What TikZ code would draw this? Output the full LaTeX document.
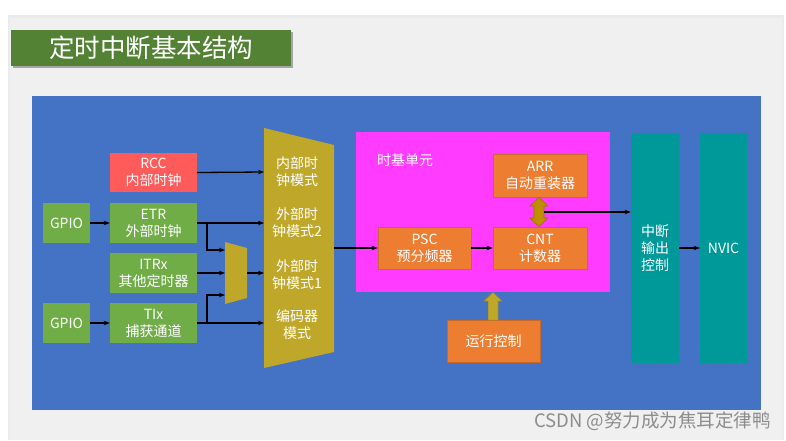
\documentclass[tikz,border=0pt]{standalone}
\usepackage{fontspec}
\setmainfont{Liberation Sans}
\newfontfamily\cjk{Noto Sans CJK SC}
\usetikzlibrary{arrows.meta}
\definecolor{slidebg}{HTML}{F0F0F0}
\definecolor{titlegreen}{HTML}{548235}
\definecolor{mainblue}{HTML}{4472C4}
\definecolor{boxgreen}{HTML}{70AD47}
\definecolor{boxred}{HTML}{FF5B5B}
\definecolor{goldc}{HTML}{BFA72A}
\definecolor{magentabox}{HTML}{FF3BFF}
\definecolor{boxorange}{HTML}{ED7D31}
\definecolor{orangeedge}{HTML}{C8692A}
\definecolor{tealc}{HTML}{009999}
\definecolor{darkgold}{HTML}{BF8F00}
\definecolor{darkgoldedge}{HTML}{9A7400}
\tikzset{
  blk/.style={rectangle, inner sep=0pt, align=center, text=white,
    font=\cjk\fontsize{14}{17}\selectfont},
  gbox/.style={blk, fill=boxgreen, minimum height=40pt},
  obox/.style={blk, fill=boxorange, draw=orangeedge, line width=0.6pt, minimum height=42pt},
  lbl/.style={inner sep=0pt, align=center, text=white, font=\cjk\fontsize{14}{17}\selectfont},
  conn/.style={line width=1.3pt, black, -{Stealth[length=6pt,width=4.5pt]}},
  wire/.style={line width=1.3pt, black}
}
\begin{document}
\begin{tikzpicture}[x=1pt,y=-1pt]
\useasboundingbox (0,0) rectangle (786,440);
\fill[white] (0,0) rectangle (786,440);
\fill[black!8] (8,15) rectangle (784,440);
\fill[slidebg] (10,18) rectangle (782,440);
% title
\fill[black!35] (13,32) rectangle (293,68);
\fill[titlegreen] (11,30) rectangle (291,66);
\node[inner sep=0pt, text=white, font=\cjk\fontsize{25.5}{28}\selectfont] (title) at (151,48) {定时中断基本结构};
% main area
\fill[mainblue] (32,96) rectangle (761,410);
% left boxes
\node[blk, fill=boxred, minimum width=87pt, minimum height=39pt] (rcc) at (153.5,172.5) {RCC\\内部时钟};
\node[gbox, minimum width=47pt] (gpio1) at (66.5,223) {GPIO};
\node[gbox, minimum width=87pt] (etr) at (153.5,223) {ETR\\外部时钟};
\node[gbox, minimum width=87pt] (itrx) at (153.5,273) {ITRx\\其他定时器};
\node[gbox, minimum width=47pt] (gpio2) at (66.5,323) {GPIO};
\node[gbox, minimum width=87pt] (tix) at (153.5,323) {TIx\\捕获通道};
% mux
\fill[goldc] (225,242) -- (247,248) -- (247,298) -- (225,304) -- cycle;
\coordinate (muxa) at (225,250);
\coordinate (muxb) at (225,273);
\coordinate (muxc) at (225,295);
\coordinate (muxo) at (247,273);
% big trapezoid
\fill[goldc] (264,128) -- (334,145) -- (334,352) -- (264,368) -- cycle;
\node[lbl] (m1) at (297,172) {内部时\\钟模式};
\node[lbl] (m2) at (297,223) {外部时\\钟模式2};
\node[lbl] (m3) at (297,275) {外部时\\钟模式1};
\node[lbl] (m4) at (297,325) {编码器\\模式};
\coordinate (in1) at (264,172);
\coordinate (in2) at (264,223);
\coordinate (in3) at (264,273);
\coordinate (in4) at (264,323);
\coordinate (bigo) at (334,248);
% time base
\fill[magentabox] (356,132) rectangle (610,292);
\node[lbl] (tb) at (405,160) {时基单元};
\node[obox, minimum width=94pt, minimum height=43pt] (arr) at (540,175.5) {ARR\\自动重装器};
\node[obox, minimum width=93pt] (psc) at (424.5,248) {PSC\\预分频器};
\node[obox, minimum width=94pt] (cnt) at (540,248) {CNT\\计数器};
\node[obox, minimum width=93pt] (run) at (493.5,341) {运行控制};
% right columns
\node[blk, fill=tealc, minimum width=48pt, minimum height=230pt] (intc) at (655,248) {中断\\输出\\控制};
\node[blk, fill=tealc, minimum width=47pt, minimum height=230pt] (nvic) at (723.5,248) {NVIC};
% double block arrow ARR <-> CNT
\filldraw[fill=darkgold, draw=darkgoldedge, line width=0.6pt]
  (539,197.5) -- (548,206) -- (544,206) -- (544,218) -- (548,218) -- (539,226.5)
  -- (530,218) -- (534,218) -- (534,206) -- (530,206) -- cycle;
\coordinate (dbl) at (544,212);
% up block arrow run -> time base
\filldraw[fill=goldc, draw=goldc!80!black, line width=0.5pt]
  (493,292.5) -- (502,301) -- (498,301) -- (498,320) -- (488,320) -- (488,301) -- (484,301) -- cycle;
% connectors
\draw[conn] (rcc.east) -- (in1);
\draw[conn] (gpio1.east) -- (etr.west);
\draw[conn] (etr.east) -- (in2);
\draw[conn] (207,223) |- (muxa);
\draw[conn] (itrx.east) -- (muxb);
\draw[conn] (gpio2.east) -- (tix.west);
\draw[conn] (tix.east) -- (in4);
\draw[conn] (207,323) |- (muxc);
\draw[conn] (muxo) -- (in3);
\draw[conn] (bigo) -- (psc.west);
\draw[conn] (psc.east) -- (cnt.west);
\draw[conn] (dbl) -- (dbl -| intc.west);
\draw[conn] (intc.east) -- (nvic.west);
% watermark
\node[anchor=east, inner sep=0pt, text=black!45, font=\cjk\fontsize{18.5}{20}\selectfont] (wm) at (771,421) {CSDN @努力成为焦耳定律鸭};
\end{tikzpicture}
\end{document}
